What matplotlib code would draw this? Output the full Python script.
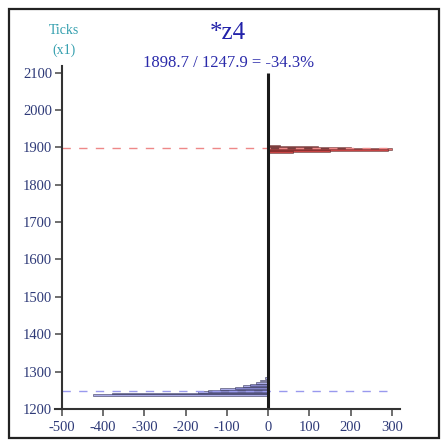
import matplotlib.pyplot as plt
from matplotlib.patches import Rectangle

plt.rcParams['font.family'] = ['Liberation Serif', 'DejaVu Serif']
plt.rcParams['axes.unicode_minus'] = False

# summary values
title = '*z4'
before_mean = 1898.7
after_mean = 1247.9
pct_change = -34.3

# red histogram (before), bin centre in ticks -> count (plotted to the right)
red_bins = [1905, 1902, 1899, 1896, 1893, 1890, 1887]
red_counts = [30, 120, 200, 300, 290, 150, 60]

# blue histogram (after), plotted to the left as negative counts
blue_bins = [1237, 1241, 1245, 1249, 1253, 1257, 1261, 1265, 1270, 1276, 1283]
blue_counts = [425, 378, 170, 145, 116, 80, 60, 44, 30, 20, 8]

# range of single samples sitting on the zero line
zero_span = [1200, 2100]

xticks = [-500, -400, -300, -200, -100, 0, 100, 200, 300]
yticks = [1200, 1300, 1400, 1500, 1600, 1700, 1800, 1900, 2000, 2100]

fig = plt.figure(figsize=(4.43, 4.40), dpi=100)
ax = fig.add_axes([0.124, 0.0705, 0.779, 0.78])

# frame round the whole picture
fig.patches.append(Rectangle((0.02, 0.005), 0.971, 0.975, transform=fig.transFigure,
                             fill=False, edgecolor='#222222', linewidth=1.6))

ax.hlines(before_mean, -500, 300, colors='#ee8888', linestyles=(0, (6, 6)), linewidth=1)
ax.hlines(after_mean, -500, 300, colors='#9999ee', linestyles=(0, (6, 6)), linewidth=1)

ax.barh(red_bins, red_counts, height=4, color='#dd3333', alpha=0.7,
        edgecolor='#442222', linewidth=0.5)
ax.barh(blue_bins, [-c for c in blue_counts], height=4.5, color='#8888dd', alpha=0.7,
        edgecolor='#222244', linewidth=0.5)

ax.vlines(0, zero_span[0], zero_span[1], colors='#1a1a1a', linewidth=2.2)

ax.set_xlim(-517, 320)
ax.set_ylim(1200, 2118)
ax.spines['top'].set_visible(False)
ax.spines['right'].set_visible(False)
ax.spines['left'].set_position(('data', -500))
ax.spines['left'].set_bounds(1200, 2118)
for s in ['left', 'bottom']:
    ax.spines[s].set_color('#333333')
    ax.spines[s].set_linewidth(1.5)

ax.set_xticks(xticks)
ax.set_yticks(yticks)
ax.tick_params(axis='both', colors='#555555', length=5, width=1.2,
               labelcolor='#2e3a78', labelsize=10.5)
ax.tick_params(axis='y', pad=2)

fig.text(0.515, 0.925, title, ha='center', va='center', fontsize=18, color='#2222aa')
fig.text(0.515, 0.857,
         f'{before_mean} / {after_mean} = {pct_change}%',
         ha='center', va='center', fontsize=12, color='#2a2aaa')
fig.text(0.145, 0.93, 'Ticks', ha='center', va='center', fontsize=10, color='#339fae')
fig.text(0.145, 0.886, '(x1)', ha='center', va='center', fontsize=10, color='#339fae')

fig.savefig('out.png', dpi=100)
